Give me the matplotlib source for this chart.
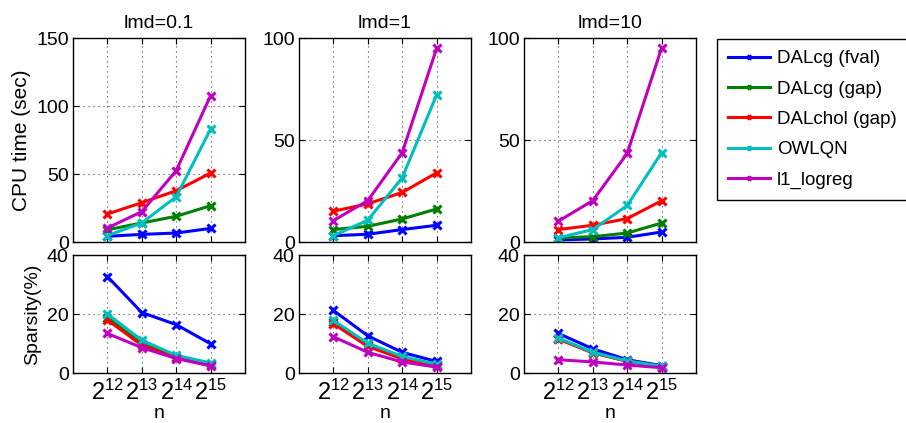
import matplotlib
matplotlib.use("Agg")
import matplotlib.pyplot as plt

plt.rcParams['font.family'] = ['Liberation Sans', 'DejaVu Sans']
plt.rcParams['mathtext.fontset'] = 'custom'
plt.rcParams['mathtext.rm'] = 'Liberation Sans'
plt.rcParams['mathtext.it'] = 'Liberation Sans'

lmd_titles = ["lmd=0.1", "lmd=1", "lmd=10"]
log2n = [12, 13, 14, 15]
xtick_labels = [r"$2^{12}$", r"$2^{13}$", r"$2^{14}$", r"$2^{15}$"]
methods = ["DALcg (fval)", "DALcg (gap)", "DALchol (gap)", "OWLQN", "l1_logreg"]
colors = ["#0000ff", "#008000", "#ff0000", "#00bfbf", "#bf00bf"]

# CPU time (sec), per lambda, per method
cpu_lmd01 = [
    [4.2, 5.6, 6.6, 10.0],
    [9.0, 14.0, 18.9, 26.7],
    [20.6, 28.9, 37.7, 50.7],
    [4.7, 14.0, 33.3, 83.0],
    [10.3, 22.3, 52.5, 107.6],
]
cpu_lmd1 = [
    [3.1, 3.8, 6.1, 8.2],
    [6.1, 7.7, 11.3, 16.2],
    [15.1, 18.7, 24.3, 33.9],
    [3.1, 10.7, 31.5, 72.1],
    [10.5, 20.3, 43.8, 94.9],
]
cpu_lmd10 = [
    [1.0, 1.5, 2.3, 4.9],
    [2.0, 2.6, 4.4, 9.3],
    [6.1, 8.2, 11.5, 20.2],
    [2.1, 6.1, 17.9, 43.8],
    [10.2, 20.3, 43.4, 95.1],
]
# Sparsity (%)
sp_lmd01 = [
    [32.7, 20.5, 16.4, 9.9],
    [18.8, 9.9, 5.5, 3.0],
    [18.0, 9.4, 5.2, 2.6],
    [20.0, 11.1, 6.0, 3.4],
    [13.4, 8.6, 4.9, 2.4],
]
sp_lmd1 = [
    [21.2, 12.6, 7.0, 3.9],
    [17.3, 9.5, 5.2, 2.8],
    [16.7, 9.0, 4.8, 2.5],
    [17.8, 10.1, 5.6, 3.0],
    [12.3, 7.0, 3.75, 2.0],
]
sp_lmd10 = [
    [13.4, 8.2, 4.5, 2.5],
    [11.6, 6.9, 4.0, 2.2],
    [11.5, 6.8, 4.0, 2.2],
    [11.9, 7.0, 4.1, 2.3],
    [4.5, 3.75, 2.7, 1.8],
]
cpu_all = [cpu_lmd01, cpu_lmd1, cpu_lmd10]
sp_all = [sp_lmd01, sp_lmd1, sp_lmd10]
cpu_ylims = [150, 100, 100]
cpu_yticks = [[0, 50, 100, 150], [0, 50, 100], [0, 50, 100]]

fig = plt.figure(figsize=(9.06, 4.23), dpi=100)
W, H = 906.0, 423.0
lefts = [73, 299, 524]
pw = 172

def style(ax):
    ax.set_xlim(11, 16)
    ax.set_xticks(log2n)
    ax.grid(True, color='#404040', linestyle=(0, (1, 3.5)), linewidth=0.8)
    ax.tick_params(direction='in', top=True, right=True, length=4, width=0.8,
                   labelsize=14, pad=3)
    for s in ax.spines.values():
        s.set_linewidth(1.0)
        s.set_color('black')

handles = []
for i in range(3):
    axt = fig.add_axes([lefts[i] / W, 1 - 242 / H, pw / W, 204 / H])
    axb = fig.add_axes([lefts[i] / W, 1 - 373 / H, pw / W, 118 / H])
    for k in range(5):
        h, = axt.plot(log2n, cpu_all[i][k], color=colors[k], lw=2.2, marker='x',
                      ms=6, mew=2.2, label=methods[k])
        axb.plot(log2n, sp_all[i][k], color=colors[k], lw=2.2, marker='x',
                 ms=6, mew=2.2)
        if i == 0:
            handles.append(h)
    style(axt)
    style(axb)
    axt.set_ylim(0, cpu_ylims[i])
    axt.set_yticks(cpu_yticks[i])
    axt.set_xticklabels([])
    axt.set_title(lmd_titles[i], fontsize=14, pad=7)
    axb.set_ylim(0, 40)
    axb.set_yticks([0, 20, 40])
    axb.set_xticklabels(xtick_labels, fontsize=17)
    axb.tick_params(axis='x', pad=5)
    axb.set_xlabel("n", fontsize=14, labelpad=0)
    if i == 0:
        axt.set_ylabel("CPU time (sec)", fontsize=15, labelpad=4)
        axb.set_ylabel("Sparsity(%)", fontsize=14, labelpad=4)

leg = fig.legend(handles=handles, labels=methods, loc='upper left',
                 bbox_to_anchor=(717 / W, 1 - 39 / H), borderaxespad=0,
                 fontsize=13.5, fancybox=False, edgecolor='black', framealpha=1,
                 handlelength=2.2, labelspacing=0.7, borderpad=0.6,
                 handletextpad=0.4, markerscale=0.6)
leg.get_frame().set_linewidth(1.0)

fig.savefig("out.png", dpi=100)
